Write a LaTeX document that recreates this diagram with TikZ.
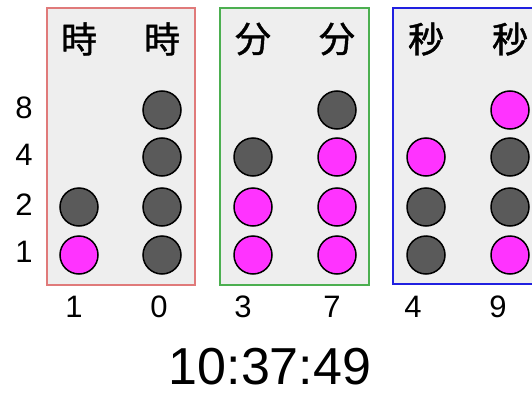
\documentclass[tikz,border=0pt]{standalone}
\usepackage{fontspec}
\setmainfont{Liberation Sans}
\newfontfamily\jpfont[FakeBold=1.2]{Noto Sans CJK JP}
\usetikzlibrary{positioning}

\definecolor{panelgray}{HTML}{EEEEEE}
\definecolor{offgray}{HTML}{5A5A5A}
\definecolor{onpink}{HTML}{FF33FF}
\definecolor{hourred}{HTML}{E07A7A}
\definecolor{mingreen}{HTML}{4CAF50}
\definecolor{secblue}{HTML}{2020E0}

\tikzset{
  panel/.style={draw=#1, line width=1.5pt, fill=panelgray},
  bitoff/.style={circle, draw=black, line width=1.5pt, fill=offgray, minimum size=38pt, inner sep=0pt},
  biton/.style={bitoff, fill=onpink},
  head/.style={font=\jpfont\fontsize{36}{36}\selectfont, inner sep=0pt},
  digit/.style={font=\fontsize{31}{31}\selectfont, inner sep=0pt},
  clock/.style={font=\fontsize{52}{52}\selectfont, inner sep=0pt}
}

\begin{document}
\begin{tikzpicture}[x=1pt,y=-1pt]
\clip (0,0) rectangle (532,396);
\fill[white] (0,0) rectangle (532,396);

\draw[panel=hourred]  (47,8) rectangle (195,285);
\draw[panel=mingreen] (220,8) rectangle (369,285);
\draw[panel=secblue]  (393,8) rectangle (560,284);

% weights
\foreach \w/\y in {8/108,4/155,2/205,1/252}
  \node[digit] (w\w) at (24,\y) {\w};

% columns: name / x / digit x / value / bits / head
\foreach \col/\x/\dx/\val/\nb/\hd in {h1/79/74/1/2/時, h0/162/159/0/4/時, m1/253/243/3/3/分, m0/337/332/7/4/分, s1/426/413/4/3/秒, s0/510/498/9/4/秒}{
  \node[head] (\col-head) at (\x,39) {\hd};
  \node[digit] (\col-val) at (\dx,307) {\val};
  \foreach \b/\y in {0/255,1/207,2/157,3/110}{
    \ifnum\b<\nb
      \pgfmathtruncatemacro\on{mod(floor(\val/2^\b),2)}
      \ifnum\on=1
        \node[biton] (\col-\b) at (\x,\y) {};
      \else
        \node[bitoff] (\col-\b) at (\x,\y) {};
      \fi
    \fi
  }
}

\node[clock] (time) at (270,367) {10:37:49};
\end{tikzpicture}
\end{document}
